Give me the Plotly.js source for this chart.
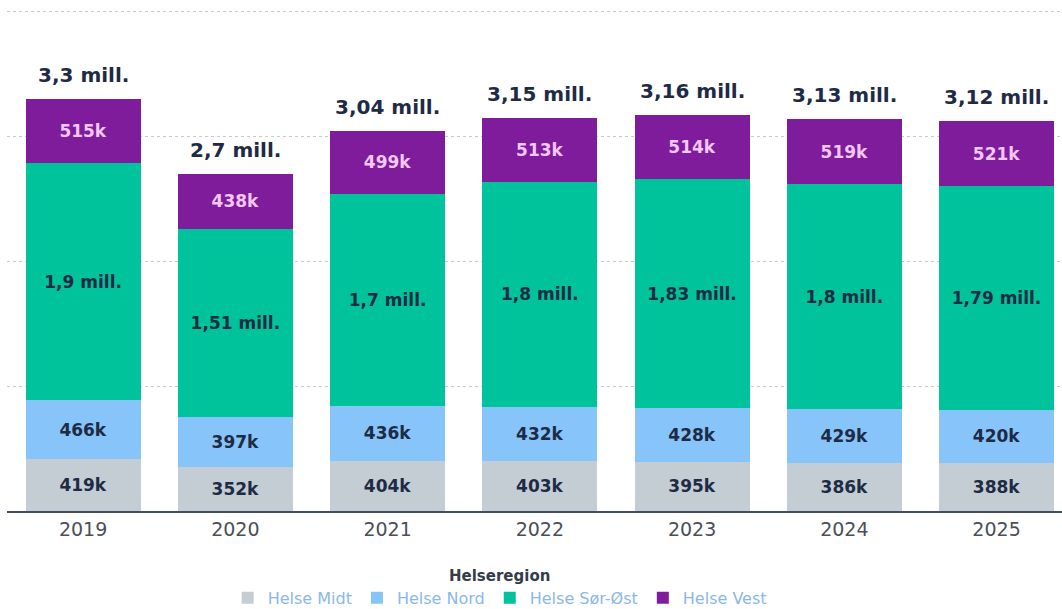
<!DOCTYPE html>
<html><head><meta charset="utf-8">
<script src="https://cdn.plot.ly/plotly-3.0.1.min.js"></script>
<style>body{margin:0;background:#fff}#c{width:1062px;height:609px}</style>
</head><body><div id="c"></div>
<script>
const years = ['2019','2020','2021','2022','2023','2024','2025'];
const midt = [419000,352000,404000,403000,395000,386000,388000];
const nord = [466000,397000,436000,432000,428000,429000,420000];
const sorost = [1900000,1510000,1700000,1800000,1830000,1800000,1790000];
const vest = [515000,438000,499000,513000,514000,519000,521000];
const midtLabels = ['419k','352k','404k','403k','395k','386k','388k'];
const nordLabels = ['466k','397k','436k','432k','428k','429k','420k'];
const sorostLabels = ['1,9 mill.','1,51 mill.','1,7 mill.','1,8 mill.','1,83 mill.','1,8 mill.','1,79 mill.'];
const vestLabels = ['515k','438k','499k','513k','514k','519k','521k'];
const totalLabels = ['3,3 mill.','2,7 mill.','3,04 mill.','3,15 mill.','3,16 mill.','3,13 mill.','3,12 mill.'];

const FONT = '"DejaVu Sans", "Noto Sans", sans-serif';
const dark = '#1e2b45';
function tr(name, y, text, color, tcolor){
  return {type:'bar', name:name, x:years, y:y, text:text, textposition:'inside',
    insidetextanchor:'middle', textangle:0, constraintext:'none',
    textfont:{family:FONT, size:17, color:tcolor, weight:'bold'},
    marker:{color:color, line:{width:0}}, hoverinfo:'skip'};
}
const data = [
  tr('Helse Midt', midt, midtLabels, '#c4cdd3', dark),
  tr('Helse Nord', nord, nordLabels, '#86c4fa', dark),
  tr('Helse Sør-Øst', sorost, sorostLabels, '#00c29b', dark),
  tr('Helse Vest', vest, vestLabels, '#7e1c9c', '#f3c8f6')
];
const annotations = years.map((yr,i)=>({
  x: i, y: midt[i]+nord[i]+sorost[i]+vest[i], text: '<b>'+totalLabels[i]+'</b>',
  showarrow:false, xref:'x', yref:'y', yanchor:'bottom', yshift:10,
  font:{family:FONT, size:20, color:dark}
}));
const layout = {
  width:1062, height:609,
  margin:{l:7, r:0, t:7, b:98, autoexpand:false},
  barmode:'stack', bargap:0.245,
  paper_bgcolor:'#fff', plot_bgcolor:'#fff',
  showlegend:true,
  xaxis:{type:'category', range:[-0.5,6.43], showline:true, linecolor:'#3f4c5e', linewidth:2,
    ticks:'', tickfont:{family:FONT, size:19, color:'#4a4f57'}, showgrid:false, fixedrange:true},
  yaxis:{range:[0,4032000], dtick:1000000, showticklabels:false, showgrid:true,
    gridcolor:'#c9c9c9', griddash:'dot', gridwidth:1, zeroline:false, fixedrange:true},
  legend:{orientation:'h', traceorder:'normal', x:0.467, xanchor:'center', y:-0.1, yanchor:'top',
    title:{text:'<b>Helseregion</b>', side:'top center', font:{family:FONT, size:15, color:'#333c48'}},
    font:{family:FONT, size:16, color:'#8ab8ec'}, tracegroupgap:0},
  annotations: annotations,
  font:{family:FONT}
};
Plotly.newPlot('c', data, layout, {displayModeBar:false, staticPlot:true});
</script></body></html>
